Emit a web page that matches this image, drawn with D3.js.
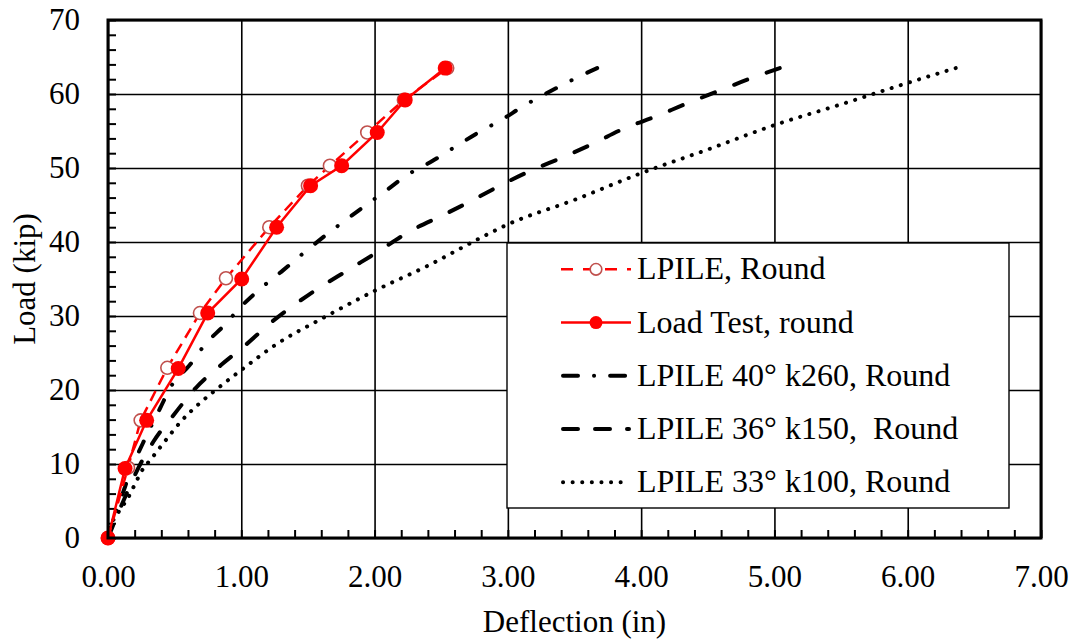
<!DOCTYPE html>
<html>
<head>
<meta charset="utf-8">
<script src="https://cdn.jsdelivr.net/npm/d3@7"></script>
<style>
  html, body { margin: 0; padding: 0; background: #fff; }
  svg { display: block; }
  text { font-family: "Liberation Serif", "Times New Roman", serif; fill: #000; }
</style>
</head>
<body>
<svg id="chart" width="1074" height="639"></svg>
<script>
// ---------- data ----------
const xTickValues = [0, 1, 2, 3, 4, 5, 6, 7];
const yTickValues = [0, 10, 20, 30, 40, 50, 60, 70];

// Load Test, round (filled red)
const loadTestDefl = [0, 0.128, 0.29, 0.527, 0.748, 1.003, 1.265, 1.52, 1.753, 2.02, 2.23, 2.53];
const loadTestLoad = [0, 9.4, 15.9, 22.9, 30.4, 35.0, 42.0, 47.6, 50.3, 54.8, 59.2, 63.5];

// LPILE, Round (open red)
const lpileRoundDefl = [0, 0.15, 0.245, 0.445, 0.69, 0.885, 1.21, 1.5, 1.665, 1.945, 2.22, 2.545];
const lpileRoundLoad = [0, 9.5, 15.9, 23.0, 30.4, 35.1, 42.0, 47.6, 50.3, 54.8, 59.2, 63.5];

// LPILE 40° k260, Round (dash-dot)
const lp40Defl = [0, 0.04, 0.1, 0.18, 0.28, 0.39, 0.48, 0.61, 0.73, 0.87, 1.0, 1.15, 1.315, 1.5, 1.77, 1.93, 2.09, 2.24, 2.43, 2.59, 2.77, 2.97, 3.11, 3.29, 3.46, 3.67];
const lp40Load = [0, 2.5, 5.5, 9.5, 13.5, 17.5, 20.7, 23.3, 26.2, 28.7, 31.3, 33.8, 36.2, 39.0, 42.8, 44.9, 47.0, 49.0, 50.9, 52.7, 54.7, 56.7, 58.3, 60.1, 61.7, 63.5];

// LPILE 36° k150, Round (dashed)
const lp36Defl = [0, 0.04, 0.13, 0.215, 0.34, 0.5, 0.665, 0.85, 1.04, 1.215, 1.5, 1.8, 2.0, 2.28, 2.51, 2.73, 2.95, 3.18, 3.42, 3.64, 3.88, 4.10, 4.34, 4.58, 4.82, 5.04];
const lp36Load = [0, 1.8, 5.6, 9.0, 13.0, 16.8, 20.4, 23.4, 26.2, 29.0, 32.8, 36.2, 38.4, 41.6, 43.6, 45.6, 47.7, 49.7, 51.5, 53.3, 55.4, 56.9, 58.7, 60.4, 62.1, 63.5];

// LPILE 33° k100, Round (dotted)
const lp33Defl = [0, 0.015, 0.05, 0.09, 0.165, 0.2, 0.265, 0.315, 0.415, 0.55, 0.70, 0.78, 1.0, 1.265, 1.6, 2.0, 2.4, 2.81, 2.99, 3.5, 4.0, 4.5, 5.0, 5.5, 6.0, 6.36];
const lp33Load = [0, 1.5, 2.7, 3.8, 5.9, 7.2, 9.4, 10.5, 12.8, 15.8, 18.4, 19.6, 22.7, 26.2, 29.6, 33.4, 36.8, 40.7, 42.3, 45.7, 49.3, 52.5, 55.8, 58.6, 61.5, 63.5];

const legendLabels = ["LPILE, Round", "Load Test, round", "LPILE 40° k260, Round", "LPILE 36° k150,  Round", "LPILE 33° k100, Round"];

// ---------- layout ----------
const svg = d3.select("#chart");
const L = 108, T = 20, R = 1041, B = 538;
const W = R - L, H = B - T;
const x = d3.scaleLinear().domain([0, 7]).range([0, W]);
const y = d3.scaleLinear().domain([0, 70]).range([H, 0]);
const g = svg.append("g").attr("transform", `translate(${L},${T})`);

const zip = (a, b) => a.map((v, i) => [v, b[i]]);

// gridlines
g.append("g").attr("transform", `translate(0,${H})`)
  .call(d3.axisBottom(x).tickValues(xTickValues).tickSize(-H).tickFormat(""))
  .call(s => s.select(".domain").remove())
  .call(s => s.selectAll("line").attr("stroke", "#000").attr("stroke-width", 1.6));
g.append("g")
  .call(d3.axisLeft(y).tickValues(yTickValues).tickSize(-W).tickFormat(""))
  .call(s => s.select(".domain").remove())
  .call(s => s.selectAll("line").attr("stroke", "#000").attr("stroke-width", 1.6));

// minor ticks (inward)
g.append("g").attr("transform", `translate(0,${H})`)
  .call(d3.axisBottom(x).tickValues(d3.range(0, 36).map(i => i * 0.2)).tickSize(-8).tickFormat(""))
  .call(s => s.select(".domain").remove())
  .call(s => s.selectAll("line").attr("stroke", "#000").attr("stroke-width", 2));
g.append("g")
  .call(d3.axisLeft(y).tickValues(d3.range(0, 36).map(i => i * 2)).tickSize(-8).tickFormat(""))
  .call(s => s.select(".domain").remove())
  .call(s => s.selectAll("line").attr("stroke", "#000").attr("stroke-width", 2));

// tick labels
g.append("g").attr("transform", `translate(0,${H})`)
  .call(d3.axisBottom(x).tickValues(xTickValues).tickSize(0).tickPadding(27).tickFormat(d3.format(".2f")))
  .call(s => s.select(".domain").remove())
  .call(s => s.selectAll("text").attr("font-size", 31).attr("font-family", "Liberation Serif").attr("fill", "#000"));
g.append("g")
  .call(d3.axisLeft(y).tickValues(yTickValues).tickSize(0).tickPadding(28).tickFormat(d3.format("d")))
  .call(s => s.select(".domain").remove())
  .call(s => s.selectAll("text").attr("font-size", 31).attr("font-family", "Liberation Serif").attr("fill", "#000"));

// lines
const line = d3.line().x(d => x(d[0])).y(d => y(d[1]));
const smooth = d3.line().x(d => x(d[0])).y(d => y(d[1])).curve(d3.curveMonotoneX);

const blackSeries = [
  { data: zip(lp40Defl, lp40Load), dash: [11, 17, 0.1, 17] },
  { data: zip(lp36Defl, lp36Load), dash: [14, 21] },
  { data: zip(lp33Defl, lp33Load), dash: [0.1, 9.5] }
];
blackSeries.forEach(s => {
  const p = g.append("path").attr("d", smooth(s.data))
    .attr("fill", "none").attr("stroke", "#000").attr("stroke-width", 4)
    .attr("stroke-linecap", "round");
  // stretch the gaps slightly so both ends of the line show a mark
  const len = p.node().getTotalLength();
  const period = d3.sum(s.dash);
  const n = Math.max(1, Math.round((len - s.dash[0]) / period));
  const marks = d3.sum(s.dash.filter((v, i) => i % 2 === 0));
  const gaps = period - marks;
  const f = ((len - s.dash[0]) / n - marks) / gaps;
  const arr = s.dash.map((v, i) => i % 2 === 0 ? v : v * f);
  p.attr("stroke-dasharray", arr.map(v => v.toFixed(3)).join(","));
});

const lpR = zip(lpileRoundDefl, lpileRoundLoad);
const lt = zip(loadTestDefl, loadTestLoad);

g.append("path").attr("d", line(lpR)).attr("fill", "none")
  .attr("stroke", "#ff0000").attr("stroke-width", 2.5).attr("stroke-dasharray", "11,7");
g.selectAll(".openpt").data(lpR).enter().append("circle")
  .attr("cx", d => x(d[0])).attr("cy", d => y(d[1])).attr("r", 6.5)
  .attr("fill", "#fff").attr("stroke", "#c0504d").attr("stroke-width", 1.6);

g.append("path").attr("d", line(lt)).attr("fill", "none")
  .attr("stroke", "#ff0000").attr("stroke-width", 2.5);
g.selectAll(".fillpt").data(lt).enter().append("circle")
  .attr("cx", d => x(d[0])).attr("cy", d => y(d[1])).attr("r", 7.5)
  .attr("fill", "#ff0000");

// legend
const lg = svg.append("g");
lg.append("rect").attr("x", 507).attr("y", 243).attr("width", 502).attr("height", 265)
  .attr("fill", "#fff").attr("stroke", "#000").attr("stroke-width", 1.4);
const rowY = i => 269.3 + i * 53.25;
const sx0 = 561, sx1 = 631, smid = 596;
// row 0
lg.append("line").attr("x1", sx0).attr("x2", sx1).attr("y1", rowY(0)).attr("y2", rowY(0))
  .attr("stroke", "#ff0000").attr("stroke-width", 2.5).attr("stroke-dasharray", "12,10");
lg.append("circle").attr("cx", smid).attr("cy", rowY(0)).attr("r", 5.8)
  .attr("fill", "#fff").attr("stroke", "#c0504d").attr("stroke-width", 1.6);
// row 1
lg.append("line").attr("x1", sx0).attr("x2", sx1).attr("y1", rowY(1)).attr("y2", rowY(1))
  .attr("stroke", "#ff0000").attr("stroke-width", 2.5);
lg.append("circle").attr("cx", smid).attr("cy", rowY(1)).attr("r", 6.5).attr("fill", "#ff0000");
// rows 2-4
const legDash = ["15,16,0.1,16", "15,17", "0.1,9.5"];
[2, 3, 4].forEach((r, k) => {
  lg.append("line").attr("x1", sx0 + 2).attr("x2", r === 4 ? 623 : sx1 - 2)
    .attr("y1", rowY(r)).attr("y2", rowY(r))
    .attr("stroke", "#000").attr("stroke-width", 4).attr("stroke-linecap", "round")
    .attr("stroke-dasharray", legDash[k]);
});
legendLabels.forEach((t, i) => {
  lg.append("text").attr("x", 637).attr("y", rowY(i) + 10).attr("font-size", 32)
    .attr("xml:space", "preserve").style("white-space", "pre").text(t);
});

// frame
g.append("rect").attr("x", 0).attr("y", 0).attr("width", W).attr("height", H)
  .attr("fill", "none").attr("stroke", "#000").attr("stroke-width", 3);

// axis titles
svg.append("text").attr("x", 574.5).attr("y", 632).attr("text-anchor", "middle")
  .attr("font-size", 31).text("Deflection (in)");
svg.append("text").attr("transform", "translate(35,279) rotate(-90)").attr("text-anchor", "middle")
  .attr("font-size", 31).text("Load (kip)");
</script>
</body>
</html>
